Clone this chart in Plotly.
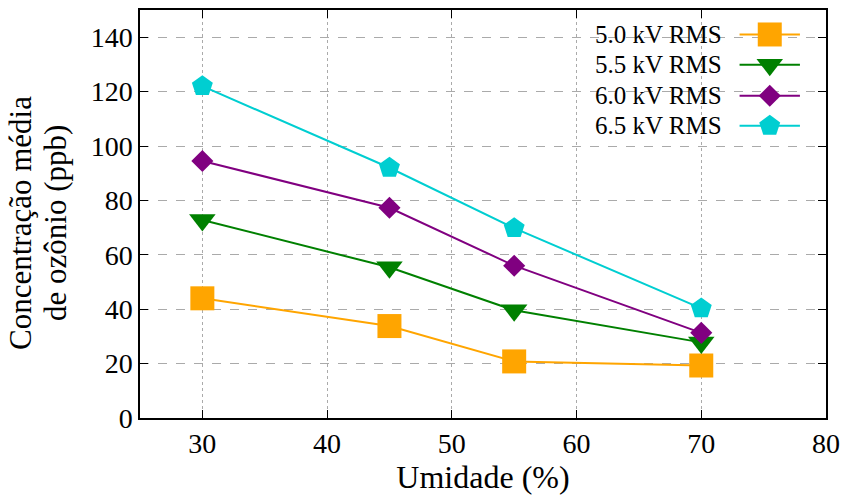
import plotly.graph_objects as go

umidade = [30, 45, 55, 70]
series_names = ["5.0 kV RMS", "5.5 kV RMS", "6.0 kV RMS", "6.5 kV RMS"]
v50 = [44, 33.8, 20.8, 19.3]
v55 = [72.8, 55.4, 39.6, 27.8]
v60 = [94.5, 77.3, 56, 31.3]
v65 = [122, 92, 69.8, 40.3]
x_ticks = [30, 40, 50, 60, 70, 80]
y_ticks = [0, 20, 40, 60, 80, 100, 120, 140]
y_title_lines = ["Concentração média", "de ozônio (ppb)"]

colors = ["#FFA500", "#008000", "#800080", "#00CED1"]
symbols = ["square", "triangle-down", "diamond", "pentagon"]
sizes = [24, 23, 17, 22]
values = [v50, v55, v60, v65]

FONT = "Liberation Serif, Times New Roman, serif"
fig = go.Figure()
for name, vals, c, s, sz in zip(series_names, values, colors, symbols, sizes):
    fig.add_trace(go.Scatter(x=umidade, y=vals, mode="lines+markers", name=name,
                             line=dict(color=c, width=2),
                             marker=dict(symbol=s, size=sz, color=c),
                             showlegend=False))

# custom legend (text left of sample, like gnuplot)
leg_y = [0.940, 0.866, 0.790, 0.716]
for name, c, s, sz, yy in zip(series_names, colors, symbols, sizes, leg_y):
    fig.add_trace(go.Scatter(x=[0.874, 0.962], y=[yy, yy], mode="lines",
                             line=dict(color=c, width=2), xaxis="x2", yaxis="y2",
                             showlegend=False, hoverinfo="skip"))
    fig.add_trace(go.Scatter(x=[0.918], y=[yy], mode="markers",
                             marker=dict(symbol=s, size=sz, color=c), xaxis="x2", yaxis="y2",
                             showlegend=False, hoverinfo="skip"))
    fig.add_annotation(x=0.852, y=yy, xref="x2", yref="y2", text=name, showarrow=False,
                       xanchor="right", yanchor="middle",
                       font=dict(family=FONT, size=25, color="black"))

# y-axis title as two rotated lines
for line_text, xs in zip(y_title_lines, [-119, -84]):
    fig.add_annotation(x=0, y=0.478, xref="paper", yref="paper", text=line_text,
                       showarrow=False, textangle=-90, xanchor="center", yanchor="middle",
                       xshift=xs, borderpad=0, font=dict(family=FONT, size=31, color="black"))

axis_common = dict(showline=True, linecolor="black", linewidth=1.5, mirror="ticks",
                   ticks="inside", ticklen=8, tickcolor="black", zeroline=False,
                   tickfont=dict(family=FONT, size=28, color="black"),
                   gridcolor="#aaaaaa", gridwidth=1)

fig.update_layout(
    width=848, height=502,
    margin=dict(l=140, r=17, t=8, b=84),
    plot_bgcolor="white", paper_bgcolor="white",
    xaxis=dict(range=[25, 80], tickvals=x_ticks, griddash="dot",
               title=dict(text="Umidade (%)", font=dict(family=FONT, size=32, color="black"), standoff=6),
               **axis_common),
    yaxis=dict(range=[0, 150], tickvals=y_ticks, griddash="dash", **axis_common),
    xaxis2=dict(range=[0, 1], overlaying="x", visible=False, anchor="y2"),
    yaxis2=dict(range=[0, 1], overlaying="y", visible=False, anchor="x2"),
)

fig.write_html("out.html", config={"displayModeBar": False},
               post_script="document.body.style.margin='0';")
